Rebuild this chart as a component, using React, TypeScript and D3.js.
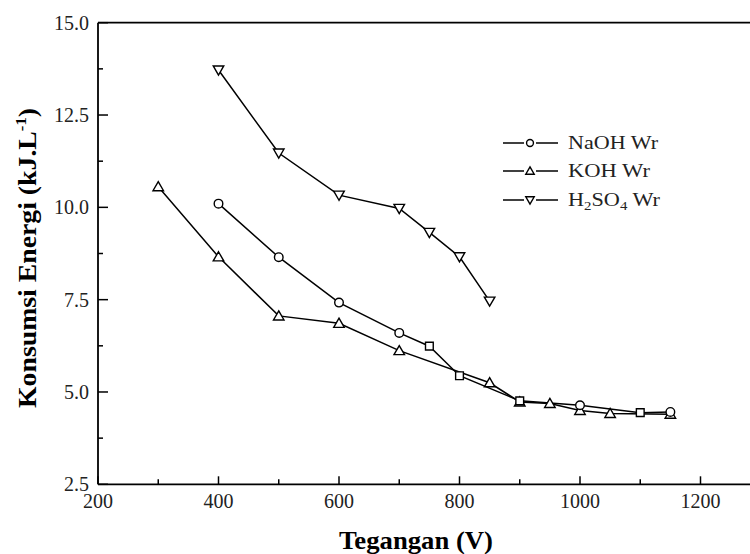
import React from "react";
import * as d3 from "d3";

// ---- data ----
const naohV = [400, 500, 600, 700, 750, 800, 900, 1000, 1100, 1150];
const naohE = [10.1, 8.65, 7.42, 6.6, 6.24, 5.44, 4.76, 4.64, 4.44, 4.46];
const naohMarks = ["circle", "circle", "circle", "circle", "square", "square", "square", "circle", "square", "circle"];

const kohV = [300, 400, 500, 600, 700, 850, 900, 950, 1000, 1050, 1150];
const kohE = [10.56, 8.66, 7.06, 6.86, 6.12, 5.25, 4.73, 4.69, 4.5, 4.42, 4.4];

const h2so4V = [400, 500, 600, 700, 750, 800, 850];
const h2so4E = [13.72, 11.47, 10.33, 9.97, 9.32, 8.66, 7.46];

const xMajor = [200, 400, 600, 800, 1000, 1200];
const xMinor = [300, 500, 700, 900, 1100];
const yMajor = [2.5, 5.0, 7.5, 10.0, 12.5, 15.0];
const yMinor = [3.75, 6.25, 8.75, 11.25, 13.75];

const W = 750;
const H = 554;
const FONT = "'Liberation Serif', 'Times New Roman', Times, serif";

const x = d3.scaleLinear().domain([200, 1300]).range([98, 760.75]);
const y = d3.scaleLinear().domain([2.5, 15]).range([484.3, 22.7]);

const line = d3
  .line<[number, number]>()
  .x((d) => x(d[0]))
  .y((d) => y(d[1]));

function Marker({ kind, cx, cy, s = 1 }: { kind: string; cx: number; cy: number; s?: number }) {
  const common = { fill: "white", stroke: "black", strokeWidth: 1.4 };
  const triUp = d3.symbol().type(d3.symbolTriangle).size(48 * s * s)() as string;
  const sq = d3.symbol().type(d3.symbolSquare).size(60 * s * s)() as string;
  if (kind === "circle") return <circle cx={cx} cy={cy} r={4.3 * s} {...common} />;
  if (kind === "square") return <path d={sq} transform={`translate(${cx},${cy})`} {...common} />;
  if (kind === "up") return <path d={triUp} transform={`translate(${cx},${cy + s})`} {...common} />;
  return <path d={triUp} transform={`translate(${cx},${cy - s}) rotate(180)`} {...common} />;
}

export default function App() {
  const naoh = naohV.map((v, i) => [v, naohE[i]] as [number, number]);
  const koh = kohV.map((v, i) => [v, kohE[i]] as [number, number]);
  const h2 = h2so4V.map((v, i) => [v, h2so4E[i]] as [number, number]);
  const x0 = x(200);
  const yb = y(2.5);
  const yt = y(15);

  const legend = [
    { kind: "circle", label: "NaOH Wr", len: 90, y: 143 },
    { kind: "up", label: "KOH Wr", len: 82, y: 171 },
    { kind: "down", label: "H2SO4", len: 92, y: 200 },
  ];

  return (
    <svg
      width={W}
      height={H}
      style={{ position: "absolute", left: 0, top: 0, background: "white" }}
      fontFamily={FONT}
    >
      <rect x={0} y={0} width={W} height={H} fill="white" />
      {/* axes frame */}
      <g stroke="black" strokeWidth={1.8} fill="none">
        <line x1={x0} x2={x0} y1={yt} y2={yb} />
        <line x1={x0} x2={x(1300)} y1={yb} y2={yb} />
        <line x1={x0} x2={x(1300)} y1={yt} y2={yt} />
      </g>
      {/* ticks */}
      <g stroke="black" strokeWidth={1.5}>
        {xMajor.map((v) => (
          <line key={"xM" + v} x1={x(v)} x2={x(v)} y1={yb} y2={yb - 8} />
        ))}
        {xMinor.map((v) => (
          <line key={"xm" + v} x1={x(v)} x2={x(v)} y1={yb} y2={yb - 5} />
        ))}
        {yMajor.map((v) => (
          <line key={"yM" + v} x1={x0} x2={x0 + 10} y1={y(v)} y2={y(v)} />
        ))}
        {yMinor.map((v) => (
          <line key={"ym" + v} x1={x0} x2={x0 + 5} y1={y(v)} y2={y(v)} />
        ))}
      </g>
      {/* tick labels */}
      <g fontSize={20} fill="#222">
        {xMajor.map((v) => (
          <text key={"xl" + v} x={x(v)} y={508} textAnchor="middle">
            {v}
          </text>
        ))}
        {yMajor.map((v) => (
          <text key={"yl" + v} x={89} y={y(v) + 7} textAnchor="end">
            {v.toFixed(1)}
          </text>
        ))}
      </g>
      {/* axis titles */}
      <text
        x={416}
        y={549}
        textAnchor="middle"
        fontWeight="bold"
        fontSize={25}
        textLength={154}
        lengthAdjust="spacingAndGlyphs"
      >
        Tegangan (V)
      </text>
      <text
        transform="translate(36,258) rotate(-90)"
        textAnchor="middle"
        fontWeight="bold"
        fontSize={25}
        textLength={300}
        lengthAdjust="spacingAndGlyphs"
      >
        Konsumsi Energi (kJ.L
        <tspan fontSize={15} dy={-10}>-1</tspan>
        <tspan dy={10}>)</tspan>
      </text>

      {/* series lines */}
      <g fill="none" stroke="black" strokeWidth={1.5}>
        <path d={line(naoh) as string} />
        <path d={line(koh) as string} />
        <path d={line(h2) as string} />
      </g>
      {/* markers */}
      {h2.map((d, i) => (
        <Marker key={"h" + i} kind="down" cx={x(d[0])} cy={y(d[1])} />
      ))}
      {koh.map((d, i) => (
        <Marker key={"k" + i} kind="up" cx={x(d[0])} cy={y(d[1])} />
      ))}
      {naoh.map((d, i) => (
        <Marker key={"n" + i} kind={naohMarks[i]} cx={x(d[0])} cy={y(d[1])} />
      ))}

      {/* legend */}
      {legend.map((l) => (
        <g key={l.label}>
          <line x1={503} x2={524} y1={l.y} y2={l.y} stroke="black" strokeWidth={1.5} />
          <line x1={536} x2={558} y1={l.y} y2={l.y} stroke="black" strokeWidth={1.5} />
          <Marker kind={l.kind} cx={530} cy={l.y} s={0.8} />
          {l.label === "H2SO4" ? (
            <text x={568} y={l.y + 6} fontSize={18} fill="#222" textLength={l.len} lengthAdjust="spacingAndGlyphs">
              H<tspan fontSize={12} dy={4}>2</tspan>
              <tspan dy={-4}>SO</tspan>
              <tspan fontSize={12} dy={4}>4</tspan>
              <tspan dy={-4}> Wr</tspan>
            </text>
          ) : (
            <text x={568} y={l.y + 6} fontSize={18} fill="#222" textLength={l.len} lengthAdjust="spacingAndGlyphs">
              {l.label}
            </text>
          )}
        </g>
      ))}
    </svg>
  );
}
